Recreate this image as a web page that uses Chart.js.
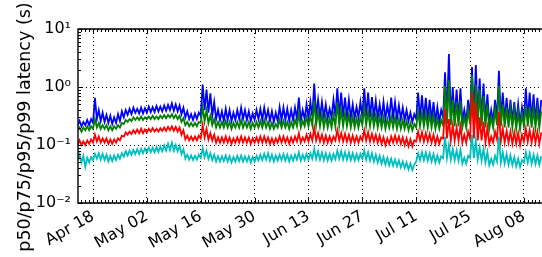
<!DOCTYPE html>
<html>
<head>
<meta charset="utf-8">
<script src="https://cdn.jsdelivr.net/npm/chart.js@4.4.0/dist/chart.umd.min.js"></script>
<style>
  html, body { margin: 0; padding: 0; background: #fff; }
</style>
</head>
<body>
<canvas id="myChart" width="542" height="257"></canvas>
<script>
"use strict";

// two samples a day (night low, day high), first day is Apr 14 = day -4 (day 0 = Apr 18)
let startDay = -4;
let tickDays = [0, 14, 28, 42, 56, 70, 84, 98, 112];
let tickLabels = ['Apr 18', 'May 02', 'May 16', 'May 30', 'Jun 13', 'Jun 27', 'Jul 11', 'Jul 25', 'Aug 08'];
let yTicks = [0.01, 0.1, 1, 10];
let yTickLabels = ['10\u207B\u00B2', '10\u207B\u00B9', '10\u2070', '10\u00B9'];
let yTitle = 'p50/p75/p95/p99 latency (s)';

let p99 = [
  .22,.26, .21,.25, .22,.27, .22,.28, .24,.65, .28,.40, .26,.36,
  .25,.33, .24,.32, .23,.30, .24,.34, .26,.38, .30,.40, .33,.42,
  .34,.44, .36,.42, .35,.44, .35,.43, .36,.46, .37,.45, .37,.47,
  .38,.46, .38,.48, .39,.49, .40,.52, .39,.50, .38,.48, .34,.44,
  .30,.38, .28,.34, .27,.35, .28,.36, .32,1.10, .40,.90, .36,.78,
  .32,.55, .28,.40, .27,.38, .26,.42, .27,.40, .26,.36, .27,.40,
  .28,.44, .28,.40, .27,.38, .26,.35, .27,.40, .28,.42, .27,.44,
  .28,.40, .26,.38, .25,.36, .26,.45, .27,.44, .27,.42, .26,.40,
  .27,.44, .28,.66, .26,.40, .28,.50, .29,.55, .31,1.15, .31,.60,
  .30,.55, .30,.50, .29,.42, .30,.60, .31,.95, .31,.80, .30,.66,
  .30,.60, .29,.50, .29,.45, .30,.55, .31,.95, .31,.80, .30,.67,
  .30,.58, .29,.50, .29,.55, .28,.48, .30,.66, .29,.55, .28,.48,
  .28,.44, .27,.40, .26,.36, .25,.34, .28,.80, .28,.72, .27,.65,
  .27,.60, .26,.55, .25,.45, .25,.40, .30,1.80, .30,3.70, .28,1.00,
  .27,.90, .27,.95, .25,.40, .25,.60, .28,2.20, .30,2.40, .28,1.40,
  .27,1.15, .26,.75, .24,.40, .25,.60, .28,1.90, .27,.80, .26,.65,
  .25,.60, .25,.55, .24,.50, .23,.45, .27,.95, .27,.80, .26,.75,
  .25,.65, .25,.60
];

let p95 = [
  .18,.20, .17,.20, .18,.21, .18,.21, .19,.28, .20,.24, .19,.22,
  .19,.22, .18,.21, .18,.21, .19,.22, .20,.24, .23,.27, .25,.28,
  .26,.30, .27,.30, .27,.31, .27,.30, .28,.31, .28,.32, .28,.31,
  .28,.32, .29,.33, .29,.33, .30,.34, .29,.33, .28,.32, .25,.29,
  .22,.25, .21,.24, .21,.24, .21,.25, .24,.45, .26,.40, .24,.32,
  .22,.28, .20,.25, .20,.25, .20,.26, .20,.25, .19,.24, .20,.25,
  .20,.27, .20,.25, .20,.25, .19,.24, .20,.25, .20,.26, .20,.27,
  .20,.25, .19,.24, .19,.23, .20,.27, .20,.26, .20,.25, .19,.25,
  .20,.27, .21,.35, .20,.26, .21,.30, .21,.32, .22,.58, .22,.38,
  .21,.34, .20,.31, .20,.29, .20,.33, .21,.55, .22,.40, .21,.36,
  .21,.33, .20,.31, .20,.29, .20,.30, .22,.45, .22,.38, .21,.35,
  .21,.33, .20,.31, .20,.30, .19,.28, .20,.31, .20,.30, .19,.28,
  .19,.27, .19,.26, .18,.24, .18,.23, .20,.38, .21,.36, .21,.35,
  .20,.34, .20,.32, .19,.28, .19,.27, .22,1.05, .23,1.30, .22,.60,
  .21,.55, .21,.58, .20,.30, .20,.40, .23,1.60, .23,1.10, .22,.90,
  .21,.70, .20,.50, .19,.30, .20,.40, .22,1.05, .21,.50, .20,.45,
  .20,.42, .20,.40, .19,.37, .19,.34, .21,.48, .21,.45, .20,.42,
  .20,.40, .20,.38
];

let p75 = [
  .10,.12, .10,.115, .10,.12, .105,.125, .11,.15, .115,.14, .11,.13,
  .11,.13, .105,.125, .105,.125, .11,.13, .12,.145, .14,.165, .15,.17,
  .155,.18, .16,.185, .16,.19, .16,.185, .165,.19, .17,.195, .17,.19,
  .17,.195, .175,.20, .175,.205, .18,.21, .175,.205, .17,.20, .15,.18,
  .125,.145, .12,.14, .12,.14, .12,.145, .13,.22, .135,.19, .125,.16,
  .12,.15, .11,.135, .11,.135, .11,.14, .11,.135, .105,.13, .11,.135,
  .11,.14, .11,.135, .11,.135, .105,.13, .11,.135, .11,.14, .11,.14,
  .11,.135, .105,.13, .105,.13, .11,.14, .11,.14, .11,.135, .105,.135,
  .11,.14, .115,.16, .11,.135, .115,.15, .115,.155, .12,.20, .12,.16,
  .115,.15, .11,.145, .11,.14, .11,.14, .12,.18, .12,.16, .115,.155,
  .115,.15, .11,.145, .11,.14, .11,.14, .12,.18, .12,.165, .115,.155,
  .115,.15, .11,.145, .105,.135, .10,.13, .105,.14, .11,.145, .11,.14,
  .105,.135, .10,.13, .095,.125, .095,.12, .115,.17, .12,.165, .115,.16,
  .115,.155, .11,.15, .105,.14, .105,.135, .13,.42, .13,.28, .12,.22,
  .12,.20, .12,.21, .11,.15, .11,.17, .13,.80, .13,.55, .12,.30,
  .12,.25, .11,.20, .105,.14, .11,.17, .125,.37, .115,.19, .11,.175,
  .11,.17, .105,.165, .105,.16, .10,.15, .115,.19, .115,.18, .11,.175,
  .11,.17, .105,.165
];

let p50 = [
  .055,.068, .05,.065, .042,.06, .05,.062, .055,.07, .058,.072, .056,.07,
  .055,.068, .052,.065, .053,.066, .055,.068, .058,.072, .063,.078, .066,.08,
  .068,.082, .07,.085, .07,.086, .072,.087, .074,.09, .075,.09, .075,.092,
  .076,.094, .078,.098, .08,.105, .082,.11, .08,.10, .078,.096, .07,.085,
  .058,.068, .056,.066, .055,.065, .056,.068, .06,.088, .062,.08, .058,.072,
  .055,.068, .052,.064, .052,.064, .053,.066, .052,.064, .05,.062, .052,.065,
  .053,.066, .052,.064, .052,.064, .05,.062, .052,.065, .054,.068, .055,.07,
  .056,.072, .054,.068, .052,.066, .054,.068, .055,.07, .054,.068, .052,.066,
  .054,.068, .056,.075, .054,.068, .055,.07, .056,.072, .058,.085, .058,.078,
  .056,.074, .055,.072, .054,.07, .054,.07, .057,.08, .058,.078, .056,.075,
  .056,.074, .055,.072, .054,.07, .055,.07, .058,.08, .056,.075, .054,.072,
  .052,.068, .05,.065, .048,.062, .046,.06, .045,.058, .044,.056, .043,.054,
  .041,.052, .04,.05, .038,.048, .037,.046, .052,.072, .055,.075, .055,.074,
  .054,.072, .052,.07, .05,.066, .05,.064, .06,.14, .06,.10, .056,.085,
  .055,.08, .054,.082, .048,.06, .048,.065, .06,.15, .06,.12, .056,.09,
  .054,.085, .05,.075, .045,.058, .046,.065, .052,.14, .05,.075, .048,.07,
  .046,.066, .045,.062, .043,.058, .042,.055, .05,.075, .05,.072, .048,.068,
  .047,.066, .046,.064
];

function toPoints(values){
    let pts = [];
    for (let i = 0; i < values.length; i++){
        pts.push({x: startDay + i / 2, y: values[i]});
    }
    return pts;
}

// inward ticks, frame and the y label, drawn on top like matplotlib does
const framePlugin = {
    id: 'frame',
    afterDraw(chart){
        const {ctx, chartArea: a, scales: {x, y}} = chart;
        ctx.save();
        ctx.strokeStyle = '#000';
        ctx.lineWidth = 1;
        ctx.beginPath();
        for (let d = Math.ceil(x.min); d <= x.max; d++){
            let px = Math.round(x.getPixelForValue(d)) + 0.5;
            let len = tickDays.includes(d) ? 5 : 3;
            ctx.moveTo(px, a.bottom); ctx.lineTo(px, a.bottom - len);
            ctx.moveTo(px, a.top); ctx.lineTo(px, a.top + len);
        }
        for (let e = -2; e <= 1; e++){
            for (let m = 1; m < 10; m++){
                let v = m * Math.pow(10, e);
                if (v > y.max * 1.0001) break;
                let py = Math.round(y.getPixelForValue(v)) + 0.5;
                let len = m === 1 ? 5 : 3;
                ctx.moveTo(a.left, py); ctx.lineTo(a.left + len, py);
            }
        }
        ctx.stroke();

        ctx.lineWidth = 1.4;
        ctx.beginPath();
        ctx.moveTo(a.right + 2, a.top);
        ctx.lineTo(a.left, a.top);
        ctx.lineTo(a.left, a.bottom);
        ctx.lineTo(a.right + 2, a.bottom);
        ctx.stroke();

        ctx.translate(25, 127);
        ctx.rotate(-Math.PI / 2);
        ctx.fillStyle = '#000';
        ctx.font = '17.5px "DejaVu Sans"';
        ctx.textAlign = 'center';
        ctx.textBaseline = 'middle';
        ctx.fillText(yTitle, 0, 0);
        ctx.restore();
    }
};

const tickFont = {family: '"DejaVu Sans"', size: 16};

const ctx = document.getElementById('myChart').getContext('2d');
const myChart = new Chart(ctx, {
    type: 'line',
    data: {
        datasets: [
            {label: 'p50', data: toPoints(p50), borderColor: '#00bfbf'},
            {label: 'p75', data: toPoints(p75), borderColor: '#ff0000'},
            {label: 'p95', data: toPoints(p95), borderColor: '#008000'},
            {label: 'p99', data: toPoints(p99), borderColor: '#0000ff'}
        ]
    },
    options: {
        responsive: false,
        animation: false,
        elements: {
            point: {radius: 0},
            line: {borderWidth: 1.8, tension: 0, fill: false}
        },
        layout: {padding: {top: 29, left: 0, right: 0, bottom: 0}},
        plugins: {legend: {display: false}, tooltip: {enabled: false}},
        scales: {
            x: {
                type: 'linear',
                min: -3.9,
                max: 116.7,
                afterBuildTicks: function(scale){
                    scale.ticks = tickDays.map(v => ({value: v}));
                },
                afterFit: function(scale){
                    scale.height = 54;
                    scale.paddingLeft = 0;
                    scale.paddingRight = 0;
                },
                ticks: {
                    autoSkip: false,
                    minRotation: 30,
                    maxRotation: 30,
                    padding: 4,
                    color: '#000',
                    font: tickFont,
                    callback: (v, i) => tickLabels[i]
                },
                grid: {color: '#000', lineWidth: 1, drawTicks: false},
                border: {display: false, dash: [1, 3]}
            },
            y: {
                type: 'logarithmic',
                min: 0.01,
                max: 10,
                afterBuildTicks: function(scale){
                    scale.ticks = yTicks.map(v => ({value: v}));
                },
                afterFit: function(scale){
                    scale.width = 78;
                    scale.paddingTop = 0;
                    scale.paddingBottom = 0;
                },
                ticks: {
                    padding: 7,
                    color: '#000',
                    font: tickFont,
                    callback: (v, i) => yTickLabels[i]
                },
                grid: {color: '#000', lineWidth: 1, drawTicks: false},
                border: {display: false, dash: [1, 3]}
            }
        }
    },
    plugins: [framePlugin]
});
</script>
</body>
</html>
